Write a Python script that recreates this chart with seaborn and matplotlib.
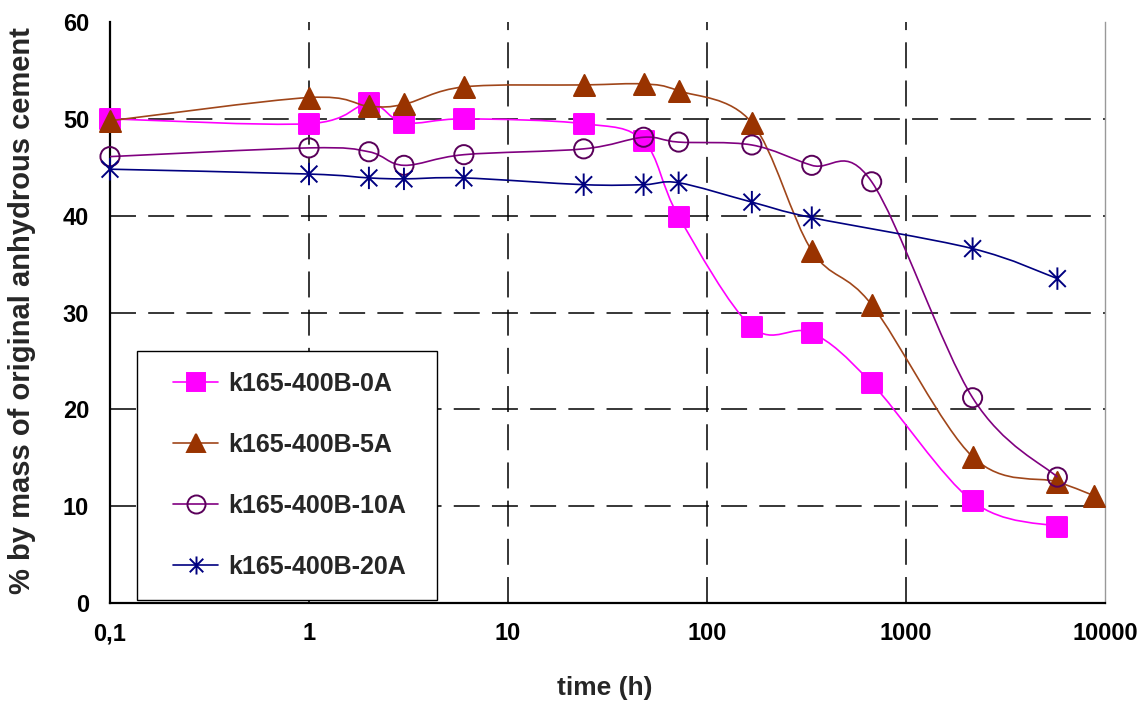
import numpy as np
import seaborn as sns
import matplotlib.pyplot as plt
from matplotlib.path import Path
from matplotlib.patches import PathPatch
from matplotlib.lines import Line2D
from matplotlib.legend_handler import HandlerLine2D
from matplotlib.ticker import FixedLocator, FixedFormatter, NullLocator

# data (time in h, % by mass of original anhydrous cement)
t_0A = [0.1, 1, 2, 3, 6, 24, 48, 72, 168, 336, 672, 2160, 5760]
v_0A = [50.0, 49.5, 51.6, 49.6, 50.0, 49.5, 47.7, 39.9, 28.5, 27.9, 22.7, 10.5, 7.9]

t_5A = [0.1, 1, 2, 3, 6, 24, 48, 72, 168, 336, 672, 2160, 5760, 8760]
v_5A = [49.8, 52.2, 51.3, 51.5, 53.3, 53.5, 53.6, 52.9, 49.6, 36.4, 30.8, 15.1, 12.5, 11.1]

t_10A = [0.1, 1, 2, 3, 6, 24, 48, 72, 168, 336, 672, 2160, 5760]
v_10A = [46.1, 47.0, 46.6, 45.2, 46.3, 46.9, 48.1, 47.6, 47.3, 45.2, 43.5, 21.2, 13.0]

t_20A = [0.1, 1, 2, 3, 6, 24, 48, 72, 168, 336, 2160, 5760]
v_20A = [44.8, 44.3, 43.9, 43.8, 43.9, 43.2, 43.2, 43.4, 41.4, 39.8, 36.6, 33.5]

labels = ["k165-400B-0A", "k165-400B-5A", "k165-400B-10A", "k165-400B-20A"]
x_ticks = [0.1, 1, 10, 100, 1000, 10000]
x_ticklabels = ["0,1", "1", "10", "100", "1000", "10000"]
y_ticks = [0, 10, 20, 30, 40, 50, 60]

sns.set_theme(style="white")
plt.rcParams['font.family'] = ['Liberation Sans', 'DejaVu Sans']
plt.rcParams['font.weight'] = 'bold'

# excel style "*" marker: X plus vertical bar
star = Path([(0, -1), (0, 1), (-0.75, -0.75), (0.75, 0.75), (-0.75, 0.75), (0.75, -0.75)],
            [Path.MOVETO, Path.LINETO, Path.MOVETO, Path.LINETO, Path.MOVETO, Path.LINETO])

series = [
    (t_0A, v_0A, "#FF00FF", "#FF00FF", "s", 190, True),
    (t_5A, v_5A, "#A0461A", "#993300", "^", 230, True),
    (t_10A, v_10A, "#800080", "#5A005A", "o", 190, False),
    (t_20A, v_20A, "#000080", "#000080", star, 260, False),
]


def smooth_path(x, y):
    # bezier smoothing like excel, done in log-x space
    pts = np.column_stack([np.log10(x), np.asarray(y, float)])
    n = len(pts)
    verts = [pts[0]]
    codes = [Path.MOVETO]
    for i in range(n - 1):
        p0 = pts[i - 1] if i > 0 else pts[i]
        p1 = pts[i]
        p2 = pts[i + 1]
        p3 = pts[i + 2] if i + 2 < n else pts[i + 1]
        verts += [p1 + (p2 - p0) / 6, p2 - (p3 - p1) / 6, p2]
        codes += [Path.CURVE4] * 3
    verts = np.array(verts)
    verts[:, 0] = 10 ** verts[:, 0]
    return Path(verts, codes)


fig = plt.figure(figsize=(11.41, 7.03), dpi=100)
ax = fig.add_axes([0.0964, 0.1422, 0.8721, 0.8265])
ax.set_xscale('log')
ax.set_xlim(x_ticks[0], x_ticks[-1])
ax.set_ylim(y_ticks[0], y_ticks[-1])

# dashed grid, not on the frame edges
for v in y_ticks[1:-1]:
    ax.axhline(v, color='black', lw=1.1, ls=(0, (17, 8)), zorder=1)
for v in x_ticks[1:-1]:
    ax.axvline(v, color='black', lw=1.1, ls=(0, (17, 8)), zorder=1)

handles = []
for k, (t, v, lc, mc, m, s, filled) in enumerate(series):
    ax.add_patch(PathPatch(smooth_path(t, v), facecolor='none', edgecolor=lc,
                           lw=1.2, transform=ax.transData, zorder=3 + 2 * k))
    sns.scatterplot(x=t, y=v, ax=ax, marker=m, s=s, color=mc, edgecolor=mc,
                    linewidth=1.4, legend=False, zorder=4 + 2 * k, clip_on=False)
    if not filled:
        ax.collections[-1].set_facecolor('none')
    handles.append(Line2D([], [], color=lc, lw=1.2, marker=m, markersize=13,
                          markerfacecolor=mc if filled else 'none',
                          markeredgecolor=mc, markeredgewidth=1.4))

ax.xaxis.set_major_locator(FixedLocator(x_ticks))
ax.xaxis.set_major_formatter(FixedFormatter(x_ticklabels))
ax.xaxis.set_minor_locator(NullLocator())
ax.set_yticks(y_ticks)
ax.tick_params(axis='both', direction='inout', length=14, width=1.3, color='black',
               labelsize=17, labelcolor='black')
ax.tick_params(axis='x', pad=7)
ax.tick_params(axis='y', pad=8)

for side in ['left', 'bottom']:
    ax.spines[side].set_color('black')
    ax.spines[side].set_linewidth(1.6)
ax.spines['right'].set_color('#999999')
ax.spines['right'].set_linewidth(1.0)
ax.spines['top'].set_visible(False)

ax.set_xlabel("time (h)", fontsize=19, fontweight='bold', va='center')
ax.set_ylabel("% by mass of original anhydrous cement", fontsize=21,
              fontweight='bold', va='center')
ax.xaxis.set_label_coords(0.4975, -0.146)
ax.yaxis.set_label_coords(-0.0884, 0.5026)

leg = ax.legend(handles, labels, loc='lower left',
                bbox_to_anchor=(0.027, 0.005, 0.3015, 0.43), mode='expand',
                borderaxespad=0, fontsize=18, frameon=True, fancybox=False,
                edgecolor='black', framealpha=1, facecolor='white',
                handlelength=2.4, handletextpad=0.4, borderpad=0.85,
                labelspacing=1.48, numpoints=1,
                handler_map={Line2D: HandlerLine2D(xpad=0.6)})
leg.get_frame().set_linewidth(1.0)
leg.set_zorder(20)

fig.savefig("out.png", dpi=100)
